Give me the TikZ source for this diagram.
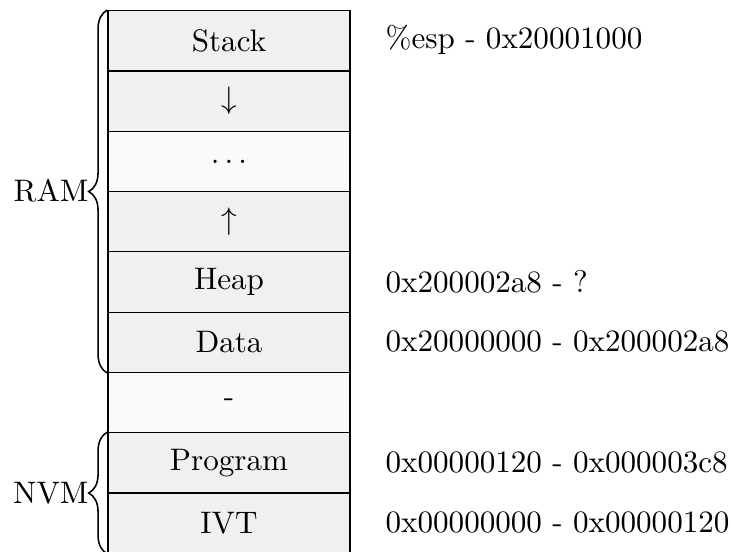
\documentclass[tikz,border=0pt]{standalone}
\usetikzlibrary{decorations.pathreplacing}
\definecolor{cellgray}{RGB}{240,240,240}
\definecolor{celllight}{RGB}{250,250,250}
\begin{document}
\begin{tikzpicture}[x=0.3215pt,y=-0.3215pt,
  cell/.style={draw=black, line width=0.4pt, fill=cellgray, minimum width=77.8pt, minimum height=19.39pt, inner sep=0pt, anchor=north},
  lightcell/.style={cell, fill=celllight},
  addr/.style={anchor=west, inner sep=0pt},
  membrace/.style={decorate, decoration={brace, amplitude=6pt}, line width=0.5pt},
  memlabel/.style={anchor=east, inner sep=0pt}]
\useasboundingbox (0,0) rectangle (731,551);
\node[cell]      (stack) at (229,10)    {Stack};
\node[cell]      (down)  at (229,70.3)  {$\downarrow$};
\node[lightcell] (dots)  at (229,130.6) {$\dots$};
\node[cell]      (up)    at (229,190.9) {$\uparrow$};
\node[cell]      (heap)  at (229,251.2) {Heap};
\node[cell]      (data)  at (229,311.5) {Data};
\node[lightcell] (gap)   at (229,371.8) {-};
\node[cell]      (prog)  at (229,432.1) {Program};
\node[cell]      (ivt)   at (229,492.4) {IVT};
\node[addr] (astack) at (385,40.2)  {\%esp - 0x20001000};
\node[addr] (aheap)  at (385,281.4) {0x200002a8 - ?};
\node[addr] (adata)  at (385,341.7) {0x20000000 - 0x200002a8};
\node[addr] (aprog)  at (385,462.3) {0x00000120 - 0x000003c8};
\node[addr] (aivt)   at (385,522.6) {0x00000000 - 0x00000120};
\draw[membrace] (data.south west) -- (stack.north west);
\draw[membrace] (ivt.south west) -- (prog.north west);
\node[memlabel] (ram) at (89,191) {RAM};
\node[memlabel] (nvm) at (89,493) {NVM};
\end{tikzpicture}
\end{document}
